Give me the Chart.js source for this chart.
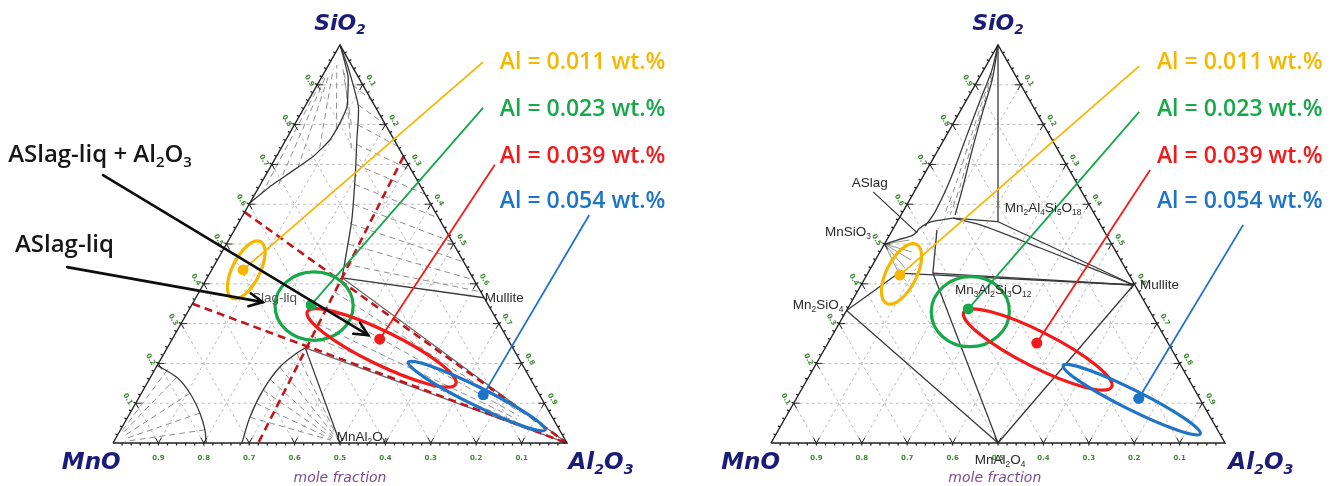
<!DOCTYPE html>
<html lang="en">
<head>
<meta charset="utf-8">
<title>MnO–SiO2–Al2O3 inclusion compositions</title>
<script src="https://cdn.jsdelivr.net/npm/chart.js@4.4.1/dist/chart.umd.min.js"></script>
<style>
  html, body { margin: 0; padding: 0; background: #fff; }
  #stage { position: relative; width: 1341px; height: 486px; overflow: hidden; background: #fff; }
  #stage canvas { position: absolute; top: 0; }
  #liquidus { left: 0; }
  #phases { left: 670px; }
</style>
</head>
<body>
<div id="stage">
  <canvas id="liquidus" width="670" height="486"></canvas>
  <canvas id="phases" width="671" height="486"></canvas>
</div>
<script>
// Every composition is a mole fraction pair [SiO2, Al2O3]; MnO is the remainder.

const fractionTicks = [0.1, 0.2, 0.3, 0.4, 0.5, 0.6, 0.7, 0.8, 0.9];
const aluminiumLabels = ['Al = 0.011 wt.%', 'Al = 0.023 wt.%', 'Al = 0.039 wt.%', 'Al = 0.054 wt.%'];
const frame = [[0, 0], [1, 0], [0, 1], [0, 0]];          // MnO -> SiO2 -> Al2O3 -> MnO
const spinel = [0, 0.5];                                   // MnAl2O4
const alumina = [0, 1];

// ---------- liquidus diagram (left) ----------
const leftMeans         = [[0.435, 0.069], [0.347, 0.263], [0.261, 0.457], [0.121, 0.755]];
const leftSpreadCentre  = [[0.435, 0.076], [0.344, 0.271], [0.239, 0.472], [0.118, 0.742]];
const leftSpreadMajor   = [[0.506, 0.072], [0.344, 0.357], [0.148, 0.681], [0.033, 0.935]];
const leftSpreadMinor   = [[0.419, 0.111], [0.430, 0.228], [0.277, 0.469], [0.139, 0.740]];

const leftSilicaLiquidus  = [[1, 0], [0.975, 0.019], [0.92, 0.058], [0.845, 0.093], [0.80, 0.098], [0.76, 0.097], [0.72, 0.081], [0.68, 0.051], [0.645, 0.024], [0.603, 0]];
const leftMulliteLiquidus = [[1, 0], [0.945, 0.045], [0.845, 0.118], [0.76, 0.157], [0.68, 0.194], [0.56, 0.246], [0.415, 0.297]];
const leftMnOLiquidus     = [[0.195, 0], [0.165, 0.058], [0.125, 0.107], [0.075, 0.154], [0.033, 0.186], [0, 0.205]];
const leftSpinelLiquidus  = [[0, 0.284], [0.065, 0.269], [0.133, 0.264], [0.191, 0.272], [0.226, 0.292], [0.239, 0.304]];
const leftMullite = [0.365, 0.635];
const leftUpperJunction = [0.415, 0.297];
const leftLowerJunction = [0.239, 0.304];
const leftSlagLimits = [
  [[0.35, 0], [0, 1]],
  [[0.58, 0], [0, 1]],
  [[0.72, 0.28], [0, 0.32]]
];
const leftSilicaTies = [
  [[0.625, 0.015], [0.92, 0.004]], [[0.65, 0.04], [0.92, 0.008]], [[0.69, 0.062], [0.93, 0.012]],
  [[0.74, 0.085], [0.94, 0.015]], [[0.79, 0.097], [0.95, 0.018]], [[0.80, 0.125], [0.95, 0.03]],
  [[0.74, 0.155], [0.93, 0.045]]
];
const leftMulliteTies = [
  [[0.90, 0.078], [0.86, 0.14]], [[0.85, 0.115], [0.80, 0.20]], [[0.80, 0.139], [0.745, 0.255]],
  [[0.75, 0.162], [0.685, 0.315]], [[0.70, 0.185], [0.625, 0.375]], [[0.65, 0.207], [0.565, 0.435]],
  [[0.60, 0.229], [0.505, 0.495]], [[0.55, 0.25], [0.455, 0.545]], [[0.50, 0.268], [0.41, 0.59]],
  [[0.45, 0.285], [0.38, 0.62]]
];
const leftCorundumTies = [
  [[0.38, 0.298], [0.076, 0.86]], [[0.34, 0.298], [0.068, 0.86]], [[0.30, 0.299], [0.06, 0.86]], [[0.27, 0.30], [0.054, 0.86]]
];
const leftMnOTies = [
  [[0.185, 0.028], [0.025, 0.004]], [[0.165, 0.058], [0.022, 0.008]], [[0.125, 0.107], [0.016, 0.014]],
  [[0.075, 0.154], [0.01, 0.02]], [[0.033, 0.186], [0.004, 0.024]]
];
const leftSpinelTies = [
  [[0.065, 0.269], [0.007, 0.477]], [[0.10, 0.265], [0.01, 0.476]], [[0.133, 0.264], [0.013, 0.476]],
  [[0.16, 0.266], [0.016, 0.477]], [[0.191, 0.272], [0.019, 0.478]], [[0.226, 0.292], [0.023, 0.479]]
];

// ---------- phase diagram with compounds (right) ----------
const rightMeans        = [[0.422, 0.073], [0.337, 0.266], [0.251, 0.460], [0.112, 0.754]];
const rightSpreadCentre = [[0.425, 0.075], [0.330, 0.274], [0.235, 0.470], [0.109, 0.740]];
const rightSpreadMajor  = [[0.499, 0.071], [0.330, 0.360], [0.141, 0.680], [0.023, 0.934]];
const rightSpreadMinor  = [[0.408, 0.113], [0.418, 0.231], [0.275, 0.467], [0.131, 0.739]];

const rightCordierite = [0.556, 0.222];
const rightMullite = [0.397, 0.6];
const spessartine = [0.427, 0.143];
const rightKnee = [0.427, 0.068];
const rhodonite = [0.5, 0];     // MnSiO3
const tephroite = [0.333, 0];   // Mn2SiO4
const rightLiquidBoundary = [[0.565, 0.118], [0.555, 0.073], [0.54, 0.058], [0.523, 0.052], [0.51, 0.023], [0.5, 0]];
const rightLensOuter = [[1, 0], [0.937, 0.018], [0.862, 0.03], [0.761, 0.047], [0.661, 0.064], [0.58, 0.071], [0.545, 0.067]];
const rightLensInner = [[1, 0], [0.912, 0.031], [0.837, 0.049], [0.736, 0.075], [0.636, 0.103], [0.573, 0.119]];
const rightLensHatch = [
  [[0.93, 0.022], [0.85, 0.038], [0.75, 0.06], [0.65, 0.082], [0.575, 0.095]],
  [[0.92, 0.027], [0.845, 0.044], [0.745, 0.068], [0.645, 0.094], [0.574, 0.108]]
];
const rightMulliteCurve = [[0.565, 0.118], [0.548, 0.187], [0.49, 0.348], [0.397, 0.6]];
const rightRhodoniteFan = [[0.427, 0.068], [0.44, 0.075], [0.46, 0.078], [0.48, 0.07], [0.51, 0.05]];

// ---------- drawing helpers ----------
const levelColors = ['#F5B700', '#17A84A', '#F21A1A', '#1E74C6'];
const toXY = ([s, a]) => ({ x: a + s / 2, y: s });

function line(points, color, width, dash, tension) {
  return {
    data: points.map(toXY), showLine: true, pointRadius: 0, pointHoverRadius: 0,
    borderColor: color, borderWidth: width, borderDash: dash || [], tension: tension || 0,
    fill: false, clip: false
  };
}
const solid = (pts, t) => line(pts, '#3a3a3a', 1.3, null, t);
const hatch = pairs => pairs.map(p => line(p, '#8f8f8f', 1, [6, 4]));

function px(chart, comp) {
  const p = toXY(comp);
  return { x: chart.scales.x.getPixelForValue(p.x), y: chart.scales.y.getPixelForValue(p.y) };
}
function plane(chart, x, y) {
  return { x: chart.scales.x.getPixelForValue(x), y: chart.scales.y.getPixelForValue(y) };
}

// text with numeric subscripts written as "_n"
function richText(ctx, text, x, y, size, font, color, align) {
  const parts = text.split(/_(\d+)/);
  const segs = [];
  let w = 0;
  parts.forEach((p, i) => {
    if (!p) return;
    const sub = i % 2 === 1;
    const fs = sub ? size * 0.62 : size;
    const f = `${font.style || 'normal'} ${font.weight || 'normal'} ${fs}px ${font.family}`;
    ctx.font = f;
    const m = ctx.measureText(p).width;
    segs.push({ p, sub, f, m });
    w += m;
  });
  let cx = align === 'center' ? x - w / 2 : align === 'right' ? x - w : x;
  ctx.fillStyle = color;
  ctx.textBaseline = 'middle';
  ctx.textAlign = 'left';
  segs.forEach(s => {
    ctx.font = s.f;
    ctx.fillText(s.p, cx, y + (s.sub ? size * 0.32 : 0));
    cx += s.m;
  });
}

function unit(a, b) {
  const dx = b.x - a.x, dy = b.y - a.y, l = Math.hypot(dx, dy);
  return { x: dx / l, y: dy / l };
}

function drawGrid(chart) {
  const ctx = chart.ctx;
  ctx.save();
  ctx.strokeStyle = '#bdbdbd';
  ctx.lineWidth = 1;
  ctx.setLineDash([3, 3]);
  fractionTicks.forEach(t => {
    [[[t, 0], [t, 1 - t]], [[0, t], [1 - t, t]], [[0, 1 - t], [1 - t, 0]]].forEach(([a, b]) => {
      const p = px(chart, a), q = px(chart, b);
      ctx.beginPath(); ctx.moveTo(p.x, p.y); ctx.lineTo(q.x, q.y); ctx.stroke();
    });
  });
  ctx.restore();
}

function drawFrameMarks(chart) {
  const ctx = chart.ctx;
  ctx.save();
  ctx.strokeStyle = '#222';
  ctx.lineWidth = 1;
  const vmark = (at, t1, t2) => {
    const p = px(chart, at);
    [t1, t2].forEach(tg => {
      const u = unit(p, px(chart, tg));
      ctx.beginPath(); ctx.moveTo(p.x, p.y); ctx.lineTo(p.x + u.x * 6, p.y + u.y * 6); ctx.stroke();
    });
  };
  fractionTicks.forEach(t => {
    vmark([0, t], [1 - t, t], [t, 0]);
    vmark([t, 0], [t, 1 - t], [0, t]);
    vmark([1 - t, t], [0, t], [1 - t, 0]);
  });
  // minor ticks every 0.02 along each side
  const normals = [{ x: 0, y: 1 }, { x: -0.866, y: -0.5 }, { x: 0.866, y: -0.5 }];
  ctx.lineWidth = 1.3;
  for (let k = 1; k < 50; k++) {
    const f = k / 50;
    [[0, f], [f, 0], [1 - f, f]].forEach((c, i) => {
      const p = px(chart, c), n = normals[i];
      ctx.beginPath(); ctx.moveTo(p.x, p.y); ctx.lineTo(p.x + n.x * 2.5, p.y + n.y * 2.5); ctx.stroke();
    });
  }
  // fraction labels
  ctx.fillStyle = '#3f8a34';
  ctx.font = 'bold 7px "DejaVu Sans"';
  ctx.textAlign = 'center';
  ctx.textBaseline = 'middle';
  fractionTicks.forEach(t => {
    const b = px(chart, [0, t]);
    ctx.fillText((1 - t).toFixed(1), b.x, b.y + 15);
    const l = px(chart, [t, 0]);
    ctx.save(); ctx.translate(l.x - 8, l.y - 4); ctx.rotate(Math.PI / 3); ctx.fillText(t.toFixed(1), 0, 0); ctx.restore();
    const r = px(chart, [1 - t, t]);
    ctx.save(); ctx.translate(r.x + 8, r.y - 4); ctx.rotate(Math.PI / 3); ctx.fillText(t.toFixed(1), 0, 0); ctx.restore();
  });
  ctx.restore();
}

function drawSpreads(chart, cfg) {
  const ctx = chart.ctx;
  ctx.save();
  cfg.centre.forEach((c, i) => {
    const o = px(chart, c), a = px(chart, cfg.major[i]), b = px(chart, cfg.minor[i]);
    ctx.save();
    ctx.beginPath();
    ctx.transform(a.x - o.x, a.y - o.y, b.x - o.x, b.y - o.y, o.x, o.y);
    ctx.arc(0, 0, 1, 0, Math.PI * 2);
    ctx.restore();
    ctx.lineWidth = 3.2;
    ctx.strokeStyle = levelColors[i];
    ctx.stroke();
  });
  // leader lines from each mean to its label
  cfg.means.forEach((m, i) => {
    const p = px(chart, m), e = plane(chart, cfg.leaders[i][0], cfg.leaders[i][1]);
    ctx.beginPath(); ctx.moveTo(p.x, p.y); ctx.lineTo(e.x, e.y);
    ctx.lineWidth = 1.8; ctx.strokeStyle = levelColors[i]; ctx.stroke();
  });
  ctx.restore();
}

function drawArrow(ctx, a, b) {
  ctx.beginPath(); ctx.moveTo(a.x, a.y); ctx.lineTo(b.x, b.y); ctx.stroke();
  const ang = Math.atan2(b.y - a.y, b.x - a.x), L = 15, w = 0.45;
  ctx.beginPath();
  ctx.moveTo(b.x - L * Math.cos(ang - w), b.y - L * Math.sin(ang - w));
  ctx.lineTo(b.x, b.y);
  ctx.lineTo(b.x - L * Math.cos(ang + w), b.y - L * Math.sin(ang + w));
  ctx.stroke();
}

function drawTexts(chart, cfg) {
  const ctx = chart.ctx;
  ctx.save();
  const title = { style: 'italic', weight: 'bold', family: '"DejaVu Sans"' };
  cfg.titles.forEach(t => {
    const p = plane(chart, t.x, t.y);
    richText(ctx, t.text, p.x, p.y, t.size, t.font || title, t.color || '#1b1b78', 'center');
  });
  cfg.names.forEach(t => {
    const p = plane(chart, t.x, t.y);
    richText(ctx, t.text, p.x, p.y, 13.5, { family: '"Liberation Sans"' }, t.color || '#2a2a2a', 'left');
  });
  (cfg.pointers || []).forEach(s => {
    const a = plane(chart, s[0], s[1]), b = plane(chart, s[2], s[3]);
    ctx.beginPath(); ctx.moveTo(a.x, a.y); ctx.lineTo(b.x, b.y);
    ctx.lineWidth = 1.2; ctx.strokeStyle = '#333'; ctx.stroke();
  });
  aluminiumLabels.forEach((txt, i) => {
    const p = plane(chart, cfg.labelX, cfg.labelY[i]);
    richText(ctx, txt, p.x, p.y, 23, { weight: '600', family: '"Open Sans"' }, levelColors[i], 'left');
  });
  (cfg.callouts || []).forEach(c => {
    const p = plane(chart, c.x, c.y);
    richText(ctx, c.text, p.x, p.y, 24, { weight: '600', family: '"Open Sans"' }, '#161616', 'left');
  });
  ctx.strokeStyle = '#0d0d0d';
  ctx.lineWidth = 2.6;
  ctx.lineCap = 'round';
  (cfg.arrows || []).forEach(a => drawArrow(ctx, plane(chart, a[0], a[1]), plane(chart, a[2], a[3])));
  ctx.restore();
}

function build(canvas, layers, means, cfg, view) {
  const dots = {
    data: means.map(toXY), showLine: false, pointRadius: 5.5, pointHoverRadius: 5.5,
    pointBackgroundColor: levelColors, pointBorderColor: levelColors, pointBorderWidth: 0, clip: false
  };
  // the first dataset is painted last, so the means sit on top
  const datasets = [dots].concat(layers.slice().reverse());
  return new Chart(canvas, {
    type: 'scatter',
    data: { datasets },
    options: {
      responsive: false, animation: false, devicePixelRatio: 1, events: [],
      layout: { padding: 0, autoPadding: false },
      plugins: { legend: { display: false }, tooltip: { enabled: false } },
      scales: {
        x: { type: 'linear', display: false, min: view.xMin, max: view.xMax },
        y: { type: 'linear', display: false, min: view.yMin, max: view.yMax }
      }
    },
    plugins: [{
      id: 'ternary',
      beforeDatasetsDraw(ch) { drawGrid(ch); },
      beforeDatasetDraw(ch, args) { if (args.index === 0) { drawFrameMarks(ch); drawSpreads(ch, cfg); } },
      afterDatasetsDraw(ch) { drawTexts(ch, cfg); }
    }]
  });
}

const purpleNote = { style: 'italic', weight: 'normal', family: '"DejaVu Sans"' };
const labelRows = [0.955, 0.839, 0.721, 0.608];

// ---------- left chart ----------
const leftLayers = [].concat(
  hatch(leftSilicaTies), hatch(leftMulliteTies), hatch(leftCorundumTies), hatch(leftMnOTies), hatch(leftSpinelTies),
  [
    solid(leftSilicaLiquidus, 0.12), solid(leftMulliteLiquidus, 0.2),
    solid(leftMnOLiquidus, 0.3), solid(leftSpinelLiquidus, 0.3),
    solid([leftUpperJunction, leftMullite]), line([leftUpperJunction, alumina], '#6a6a6a', 1.3),
    line([leftLowerJunction, alumina], '#6a6a6a', 1.3), solid([leftLowerJunction, spinel])
  ],
  leftSlagLimits.map(p => line(p, '#C3161C', 2.6, [8, 5])),
  [line(frame, '#222', 1.4)]
);
build(document.getElementById('liquidus'), leftLayers, leftMeans, {
  means: leftMeans, centre: leftSpreadCentre, major: leftSpreadMajor, minor: leftSpreadMinor,
  leaders: [[0.815, 0.957], [0.815, 0.842], [0.841, 0.699], [1.049, 0.573]],
  labelX: 0.852, labelY: labelRows,
  titles: [
    { text: 'SiO_2', x: 0.5, y: 1.053, size: 22 },
    { text: 'MnO', x: -0.048, y: -0.050, size: 23 },
    { text: 'Al_2O_3', x: 1.075, y: -0.050, size: 23 },
    { text: 'mole fraction', x: 0.5, y: -0.088, size: 14, font: purpleNote, color: '#7b4a93' }
  ],
  names: [
    { text: 'Slag-liq', x: 0.306, y: 0.364, color: '#555' },
    { text: 'Mullite', x: 0.819, y: 0.364 },
    { text: 'MnAl_2O_4', x: 0.493, y: 0.015 }
  ],
  callouts: [
    { text: 'ASlag-liq + Al_2O_3', x: -0.231, y: 0.724 },
    { text: 'ASlag-liq', x: -0.216, y: 0.498 }
  ],
  arrows: [[-0.022, 0.673, 0.562, 0.271], [-0.101, 0.442, 0.330, 0.354]]
}, { xMin: -0.2489, xMax: 1.2269, yMin: -0.108, yMax: 1.1131 });

// ---------- right chart ----------
const rightLayers = [].concat(
  rightLensHatch.map(p => line(p, '#8f8f8f', 1, [6, 4], 0.3)),
  rightRhodoniteFan.map(end => line([rhodonite, end], '#7a7a7a', 0.8, null, 0)),
  [
    solid([[1, 0], rightCordierite]), solid([rightCordierite, rightLiquidBoundary[0]]),
    solid(rightLiquidBoundary, 0.35), solid(rightLensOuter, 0.3), solid(rightLensInner, 0.3),
    solid([rightCordierite, rightMullite]), solid(rightMulliteCurve, 0.3),
    solid([[0.535, 0.098], spessartine]), solid([rightKnee, rightMullite]), solid([spessartine, rightMullite]),
    solid([spessartine, spinel]), solid([tephroite, spinel]), solid([tephroite, rightKnee]),
    solid([spinel, rightMullite])
  ],
  [line(frame, '#222', 1.4)]
);
build(document.getElementById('phases'), rightLayers, rightMeans, {
  means: rightMeans, centre: rightSpreadCentre, major: rightSpreadMajor, minor: rightSpreadMinor,
  leaders: [[0.811, 0.947], [0.811, 0.832], [0.835, 0.686], [1.040, 0.548]],
  labelX: 0.850, labelY: labelRows,
  titles: [
    { text: 'SiO_2', x: 0.5, y: 1.053, size: 22 },
    { text: 'MnO', x: -0.045, y: -0.050, size: 23 },
    { text: 'Al_2O_3', x: 1.079, y: -0.050, size: 23 },
    { text: 'mole fraction', x: 0.493, y: -0.088, size: 14, font: purpleNote, color: '#7b4a93' }
  ],
  names: [
    { text: 'ASlag', x: 0.178, y: 0.653 },
    { text: 'MnSiO_3', x: 0.119, y: 0.530 },
    { text: 'Mn_2SiO_4', x: 0.048, y: 0.347 },
    { text: 'Mn_2Al_4Si_5O_18', x: 0.515, y: 0.590 },
    { text: 'Mn_3Al_2Si_3O_12', x: 0.405, y: 0.384 },
    { text: 'Mullite', x: 0.813, y: 0.397 },
    { text: 'MnAl_2O_4', x: 0.449, y: -0.043 }
  ],
  pointers: [[0.225, 0.631, 0.322, 0.528]]
}, { xMin: -0.2225, xMax: 1.2555, yMin: -0.108, yMax: 1.1131 });
</script>
</body>
</html>
